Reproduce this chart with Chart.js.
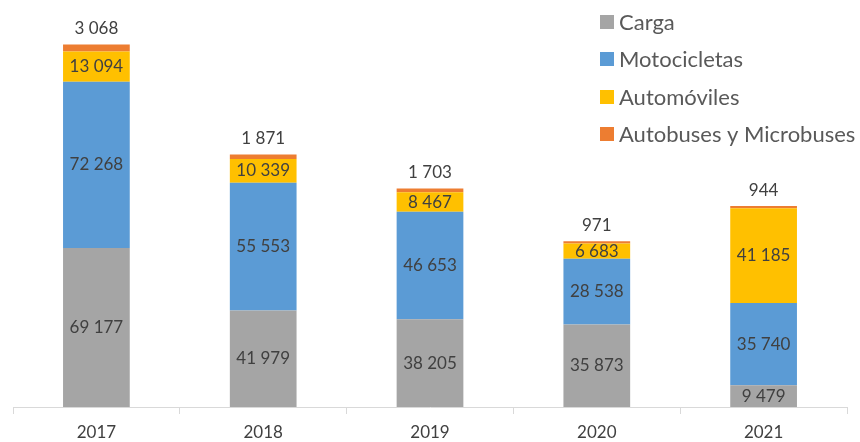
<!DOCTYPE html>
<html><head><meta charset="utf-8">
<script src="https://cdn.jsdelivr.net/npm/chart.js@4/dist/chart.umd.min.js"></script>
<style>html,body{margin:0;padding:0;background:#fff}#wrap{width:860px;height:442px}</style>
</head><body><div id="wrap"><canvas id="c" width="860" height="442"></canvas></div>
<script>
const categories = ['2017','2018','2019','2020','2021'];
const carga = [69177, 41979, 38205, 35873, 9479];
const motocicletas = [72268, 55553, 46653, 28538, 35740];
const automoviles = [13094, 10339, 8467, 6683, 41185];
const autobuses = [3068, 1871, 1703, 971, 944];
const seriesNames = ['Carga','Motocicletas','Automóviles','Autobuses y Microbuses'];
const seriesColors = ['#A5A5A5','#5B9BD5','#FFC000','#ED7D31'];

const FONT = 'Lato, "Open Sans", sans-serif';
const fmt = v => String(v).replace(/\B(?=(\d{3})+(?!\d))/g, ' ');

const labelPlugin = {
  id: 'labels',
  afterDatasetsDraw(chart) {
    const ctx = chart.ctx;
    ctx.save();
    ctx.font = '17px ' + FONT;
    ctx.fillStyle = '#404040';
    ctx.textAlign = 'center';
    ctx.textBaseline = 'middle';
    chart.data.datasets.forEach((ds, di) => {
      const meta = chart.getDatasetMeta(di);
      meta.data.forEach((bar, i) => {
        const v = ds.data[i];
        if (di === 3) {
          ctx.fillText(fmt(v), bar.x, bar.y - 16);
        } else {
          ctx.fillText(fmt(v), bar.x, (bar.y + bar.base) / 2);
        }
      });
    });
    ctx.restore();
  }
};

const legendPlugin = {
  id: 'customLegend',
  afterDraw(chart) {
    const ctx = chart.ctx;
    ctx.save();
    ctx.font = '22px ' + FONT;
    ctx.textBaseline = 'middle';
    ctx.textAlign = 'left';
    const ys = [22, 59, 97, 134];
    chart.data.datasets.forEach((ds, i) => {
      ctx.fillStyle = ds.backgroundColor;
      ctx.fillRect(600, ys[i] - 7, 14, 14);
      ctx.fillStyle = '#595959';
      ctx.fillText(ds.label, 619, ys[i] + 1);
    });
    ctx.restore();
  }
};

const datasets = [carga, motocicletas, automoviles, autobuses].map((d, i) => ({
  label: seriesNames[i],
  data: d,
  backgroundColor: seriesColors[i],
  borderWidth: 0,
  barPercentage: 0.4,
  categoryPercentage: 1.0
}));

new Chart(document.getElementById('c'), {
  type: 'bar',
  data: { labels: categories, datasets },
  options: {
    responsive: false,
    animation: false,
    devicePixelRatio: 1,
    layout: { padding: { top: 16, left: 13, right: 13, bottom: 0 } },
    plugins: { legend: { display: false }, tooltip: { enabled: false } },
    scales: {
      x: {
        stacked: true,
        afterFit(scale) { scale.height = 35; },
        grid: { display: true, drawOnChartArea: false, drawTicks: true, tickLength: 7, offset: true, color: '#D9D9D9' },
        border: { display: true, color: '#D9D9D9' },
        ticks: { color: '#404040', font: { family: FONT, size: 17 }, padding: 8 }
      },
      y: {
        stacked: true,
        display: false,
        min: 0,
        max: 170000
      }
    }
  },
  plugins: [labelPlugin, legendPlugin]
});
</script></body></html>
